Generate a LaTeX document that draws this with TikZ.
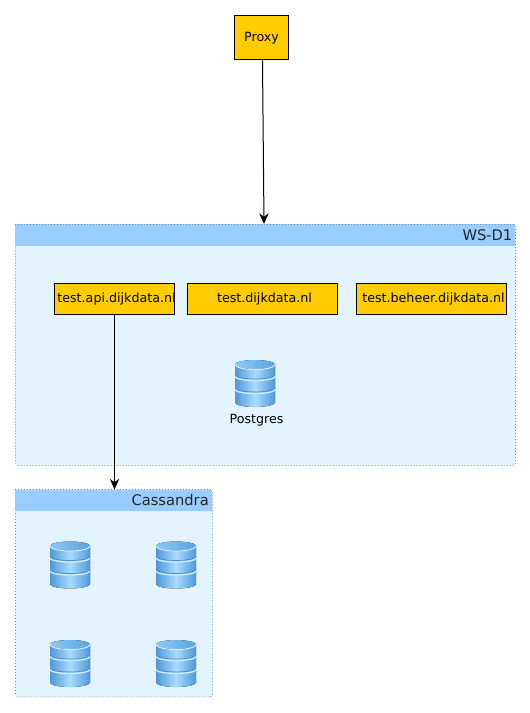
\documentclass[tikz,border=0pt]{standalone}
\usepackage{fontspec}
\setmainfont{DejaVu Sans}
\usetikzlibrary{arrows.meta}
\definecolor{boxfill}{HTML}{FFCC00}
\definecolor{groupfill}{HTML}{E3F4FF}
\definecolor{groupbar}{HTML}{99CCFF}
\definecolor{groupline}{HTML}{7F8FB0}
\definecolor{dbdark}{HTML}{4F97D8}
\definecolor{dblight}{HTML}{A8DCFF}
\definecolor{dbedge}{HTML}{4F90CC}
\definecolor{dbrim}{HTML}{D2ECFF}
\definecolor{dbtop}{HTML}{8CCAF8}
\definecolor{dbtopdark}{HTML}{5BA3DE}
\newcommand{\boxtext}[1]{\makebox[0pt]{\kern3pt #1}}
\tikzset{
    dbicon/.pic={
        \fill[left color=dbdark, right color=dbdark, middle color=dblight]
            (-20, -19) -- (-20, 19) arc[start angle=180, end angle=0, x radius=20, y radius=4.5] -- (20, -19)
            arc[start angle=0, end angle=180, x radius=20, y radius=4.5] -- cycle;
        \foreach \tiery in {-8.5, 4.5} {
            \draw[dbedge, line width=0.6pt] (-20, \tiery) arc[start angle=180, end angle=0, x radius=20, y radius=4];
            \draw[dbrim, line width=1pt] (-20, \tiery + 1.5) arc[start angle=180, end angle=0, x radius=20, y radius=4];
        }
        \fill[left color=dbtop, right color=dbtopdark] (0, -19) ellipse[x radius=20, y radius=4.5];
        \draw[dbrim, line width=0.75pt] (-20, -19) arc[start angle=180, end angle=0, x radius=20, y radius=5];
    },
}
\begin{document}
\begin{tikzpicture}[x=0.75pt, y=-0.75pt]
    \tikzstyle{box} = [draw=black, fill=boxfill, line width=0.75pt, inner sep=0pt, font=\fontsize{9.5pt}{11pt}\selectfont, anchor=north west]
    \tikzstyle{group} = [draw=groupline, fill=groupfill, dash pattern=on 0.75pt off 1.5pt, line width=0.6pt, rounded corners=2pt, inner sep=0pt, anchor=north west]
    \tikzstyle{grouptitle} = [font=\fontsize{11pt}{13pt}\selectfont, anchor=east, text=black!85, inner sep=0pt]
    \tikzstyle{link} = [draw=black, line width=0.75pt, -{Stealth[length=8pt, width=7pt]}]
    \useasboundingbox (0, 0) rectangle (530, 713);

    \node[group, minimum width=375pt, minimum height=180.75pt] (wsd1) at (15, 224) {};
    \fill[groupbar] (15, 224) rectangle (515, 246);
    \draw[draw=groupline, dash pattern=on 0.75pt off 1.5pt, line width=0.6pt] (15, 224) -- (515, 224);
    \node[grouptitle] (wsd1title) at (512.5, 235) {WS-D1};
    \coordinate (wsd1in) at (264, 224);

    \node[group, minimum width=147.75pt, minimum height=155.25pt] (cassandra) at (15, 489.5) {};
    \fill[groupbar] (15, 489.5) rectangle (212, 511);
    \draw[draw=groupline, dash pattern=on 0.75pt off 1.5pt, line width=0.6pt] (15, 489.5) -- (212, 489.5);
    \node[grouptitle] (cassandratitle) at (209, 500) {Cassandra};

    \node[box, minimum width=40.5pt, minimum height=33pt] (proxy) at (234, 15.5) {Proxy};
    \node[box, minimum width=90pt, minimum height=23.25pt] (api) at (54, 283) {\boxtext{test.api.dijkdata.nl}};
    \node[box, minimum width=112.5pt, minimum height=23.25pt] (site) at (187, 283) {\boxtext{test.dijkdata.nl}};
    \node[box, minimum width=112.5pt, minimum height=23.25pt] (beheer) at (356, 283) {\boxtext{test.beheer.dijkdata.nl}};

    \path (255, 383.5) pic {dbicon};
    \node[inner sep=0pt, font=\fontsize{9.5pt}{11pt}\selectfont] (postgres) at (256.5, 420.5) {Postgres};
    \path (70, 565) pic {dbicon};
    \path (176, 565) pic {dbicon};
    \path (70, 663.5) pic {dbicon};
    \path (176, 663.5) pic {dbicon};

    \draw[link] ([xshift=0.75pt]proxy.south) -- (wsd1in);
    \draw[link] (api.south) -- (api.south |- cassandra.north);
\end{tikzpicture}
\end{document}
